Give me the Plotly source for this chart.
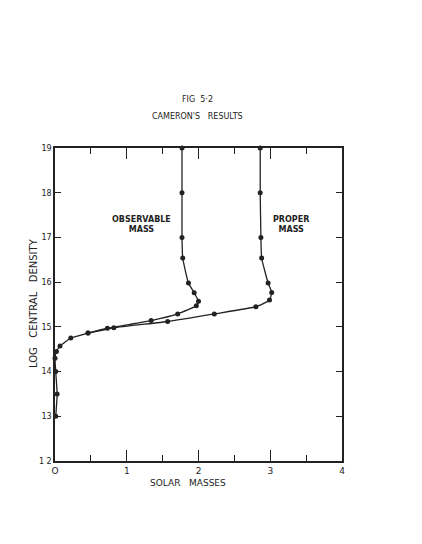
import plotly.graph_objects as go

# Observable mass curve (solar masses vs log central density)
obs_mass = [0.01, 0.03, 0.01, 0.00, 0.02, 0.07, 0.22, 0.46, 0.73, 1.34, 1.71, 1.97, 2.00, 1.94, 1.86, 1.78, 1.77, 1.77, 1.77]
obs_logrho = [13.0, 13.5, 14.0, 14.3, 14.45, 14.57, 14.75, 14.86, 14.97, 15.14, 15.29, 15.47, 15.57, 15.76, 15.98, 16.54, 17.0, 18.0, 19.0]

# Proper mass curve
prop_mass = [0.46, 0.82, 1.57, 2.22, 2.80, 2.99, 3.02, 2.97, 2.88, 2.87, 2.86, 2.86]
prop_logrho = [14.86, 14.98, 15.12, 15.29, 15.45, 15.60, 15.77, 15.98, 16.54, 17.0, 18.0, 19.0]

x_ticks = [0, 1, 2, 3, 4]
x_labels = ["O", "1", "2", "3", "4"]
y_ticks = [12, 13, 14, 15, 16, 17, 18, 19]
y_labels = ["1 2", "13", "14", "15", "16", "17", "18", "19"]

FONT = "DejaVu Sans"
INK = "#222222"

# plot area in pixels
L, R, T, B = 55, 342, 148, 461
PW, PH = R - L, B - T


def px(xp):
    return (xp - L) / PW


def py(yp):
    return (B - yp) / PH


fig = go.Figure()
for xs, ys in [(obs_mass, obs_logrho), (prop_mass, prop_logrho)]:
    fig.add_trace(go.Scatter(
        x=xs, y=ys, mode="lines+markers",
        line=dict(color=INK, width=1.3, shape="spline", smoothing=0.4),
        marker=dict(color=INK, size=5),
        showlegend=False, cliponaxis=False,
    ))

fig.update_layout(
    width=422, height=544,
    margin=dict(l=L, r=422 - R, t=T, b=544 - B),
    paper_bgcolor="white", plot_bgcolor="white",
    font=dict(family=FONT, size=8, color=INK),
)
fig.update_xaxes(
    range=[0, 4], showgrid=False, zeroline=False,
    showline=True, linecolor=INK, linewidth=1.5, mirror="ticks",
    ticks="inside", ticklen=11, tickwidth=1.2, tickcolor=INK,
    tickvals=x_ticks, ticktext=x_labels,
    tickfont=dict(family=FONT, size=9, color=INK),
    minor=dict(dtick=0.5, ticks="inside", ticklen=6, tickwidth=1.2, tickcolor=INK, showgrid=False),
)
fig.update_yaxes(
    range=[12, 19], showgrid=False, zeroline=False,
    showline=True, linecolor=INK, linewidth=1.5, mirror="ticks",
    ticks="inside", ticklen=6, tickwidth=1.2, tickcolor=INK,
    tickvals=y_ticks, ticktext=y_labels,
    tickfont=dict(family=FONT, size=8, color=INK),
)

ann_font = dict(family=FONT, size=8, color=INK)
common = dict(xref="paper", yref="paper", showarrow=False, xanchor="center", yanchor="middle")
fig.add_annotation(text="FIG  5·2", x=px(197), y=py(99), font=ann_font, **common)
fig.add_annotation(text="CAMERON'S   RESULTS", x=px(197), y=py(117), font=ann_font, **common)
fig.add_annotation(text="SOLAR   MASSES", x=px(188), y=py(483),
                   font=dict(family=FONT, size=9, color=INK), **common)
fig.add_annotation(text="LOG   CENTRAL   DENSITY", x=px(33), y=py(303), textangle=-90,
                   font=dict(family=FONT, size=10, color=INK), **common)
fig.add_annotation(text="<b>OBSERVABLE</b><br><b>MASS</b>", x=1.21, y=17.30, showarrow=False,
                   xanchor="center", yanchor="middle", font=ann_font)
fig.add_annotation(text="<b>PROPER</b><br><b>MASS</b>", x=3.29, y=17.30, showarrow=False,
                   xanchor="center", yanchor="middle", font=ann_font)

fig.write_html("out.html")
